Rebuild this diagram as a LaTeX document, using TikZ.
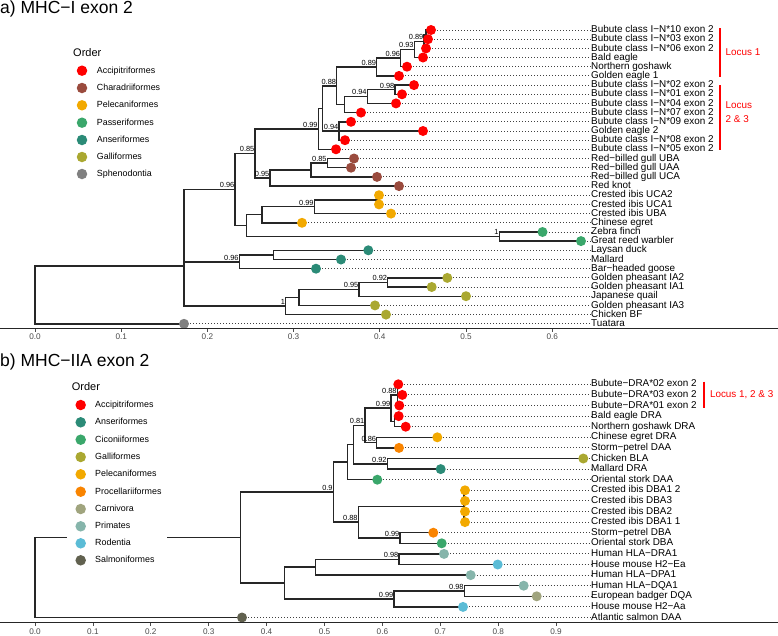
\documentclass[tikz,border=0pt]{standalone}
\usepackage{fontspec}
\setmainfont{Liberation Sans}
\usetikzlibrary{backgrounds}

\definecolor{accip}{HTML}{FF0000}
\definecolor{chara}{HTML}{9A4B3E}
\definecolor{pelec}{HTML}{F2A900}
\definecolor{passe}{HTML}{3AA76B}
\definecolor{anser}{HTML}{2B8B77}
\definecolor{galli}{HTML}{AAA831}
\definecolor{sphen}{HTML}{808080}
\definecolor{cicon}{HTML}{3AA76B}
\definecolor{proce}{HTML}{F98400}
\definecolor{carni}{HTML}{A0A47E}
\definecolor{prima}{HTML}{86B5AB}
\definecolor{roden}{HTML}{5BBCD6}
\definecolor{salmo}{HTML}{61614F}

\tikzset{
  edge/.style={line width=1.4pt, black!85},
  dotline/.style={line width=0.9pt, black!75, dash pattern=on 0.9pt off 2.1pt},
  tip/.style={circle, inner sep=0pt, minimum size=10pt},
  key/.style={circle, inner sep=0pt, minimum size=10.5pt},
  tiplab/.style={anchor=mid west, inner sep=0pt, font=\fontsize{9.9}{10}\selectfont},
  support/.style={anchor=base east, inner sep=0pt, xshift=-0.5pt, yshift=1.6pt, font=\fontsize{7.4}{8}\selectfont},
  keylab/.style={anchor=mid west, inner sep=0pt, font=\fontsize{8.9}{9}\selectfont},
  keytitle/.style={anchor=base west, inner sep=0pt, font=\fontsize{11}{12}\selectfont},
  paneltitle/.style={anchor=base west, inner sep=0pt, font=\fontsize{17.5}{18}\selectfont},
  ticklab/.style={inner sep=0pt, text=black!70, font=\fontsize{8.2}{9}\selectfont},
  axisline/.style={line width=1.3pt, black!85},
  tickmark/.style={line width=0.8pt, black!70},
  locus/.style={anchor=mid west, inner sep=0pt, text=accip, font=\fontsize{9.9}{10}\selectfont},
  bracket/.style={line width=2pt, accip},
}

\begin{document}
\begin{tikzpicture}[x=1pt, y=-1pt]
  \useasboundingbox (0,0) rectangle (778,635);

  % ---------------- panel a ----------------
  \node[paneltitle] (titlea) at (0,13.5) {a) MHC−I exon 2};

  % tips
  \node[tip,fill=accip] (a0) at (431,30.0) {};
  \node[tip,fill=accip] (a1) at (428,39.2) {};
  \node[tip,fill=accip] (a2) at (426,48.4) {};
  \node[tip,fill=accip] (a3) at (423,57.5) {};
  \node[tip,fill=accip] (a4) at (407,66.7) {};
  \node[tip,fill=accip] (a5) at (399,75.9) {};
  \node[tip,fill=accip] (a6) at (414,85.1) {};
  \node[tip,fill=accip] (a7) at (402,94.3) {};
  \node[tip,fill=accip] (a8) at (396,103.4) {};
  \node[tip,fill=accip] (a9) at (361,112.6) {};
  \node[tip,fill=accip] (a10) at (351,121.8) {};
  \node[tip,fill=accip] (a11) at (423,131.0) {};
  \node[tip,fill=accip] (a12) at (345,140.2) {};
  \node[tip,fill=accip] (a13) at (336,149.3) {};
  \node[tip,fill=chara] (a14) at (354,158.5) {};
  \node[tip,fill=chara] (a15) at (351,167.7) {};
  \node[tip,fill=chara] (a16) at (377,176.9) {};
  \node[tip,fill=chara] (a17) at (399,186.1) {};
  \node[tip,fill=pelec] (a18) at (379,195.2) {};
  \node[tip,fill=pelec] (a19) at (379,204.4) {};
  \node[tip,fill=pelec] (a20) at (391,213.6) {};
  \node[tip,fill=pelec] (a21) at (302,222.8) {};
  \node[tip,fill=passe] (a22) at (542.5,232.0) {};
  \node[tip,fill=passe] (a23) at (581,241.1) {};
  \node[tip,fill=anser] (a24) at (368.3,250.3) {};
  \node[tip,fill=anser] (a25) at (341,259.5) {};
  \node[tip,fill=anser] (a26) at (316,268.7) {};
  \node[tip,fill=galli] (a27) at (447.3,277.9) {};
  \node[tip,fill=galli] (a28) at (431.7,287.0) {};
  \node[tip,fill=galli] (a29) at (466,296.2) {};
  \node[tip,fill=galli] (a30) at (375,305.4) {};
  \node[tip,fill=galli] (a31) at (386,314.6) {};
  \node[tip,fill=sphen] (a32) at (184,323.8) {};

  % tip labels
  \node[tiplab] (la0) at (591,30.0) {Bubute class I−N*10 exon 2};
  \node[tiplab] (la1) at (591,39.2) {Bubute class I−N*03 exon 2};
  \node[tiplab] (la2) at (591,48.4) {Bubute class I−N*06 exon 2};
  \node[tiplab] (la3) at (591,57.5) {Bald eagle};
  \node[tiplab] (la4) at (591,66.7) {Northern goshawk};
  \node[tiplab] (la5) at (591,75.9) {Golden eagle 1};
  \node[tiplab] (la6) at (591,85.1) {Bubute class I−N*02 exon 2};
  \node[tiplab] (la7) at (591,94.3) {Bubute class I−N*01 exon 2};
  \node[tiplab] (la8) at (591,103.4) {Bubute class I−N*04 exon 2};
  \node[tiplab] (la9) at (591,112.6) {Bubute class I−N*07 exon 2};
  \node[tiplab] (la10) at (591,121.8) {Bubute class I−N*09 exon 2};
  \node[tiplab] (la11) at (591,131.0) {Golden eagle 2};
  \node[tiplab] (la12) at (591,140.2) {Bubute class I−N*08 exon 2};
  \node[tiplab] (la13) at (591,149.3) {Bubute class I−N*05 exon 2};
  \node[tiplab] (la14) at (591,158.5) {Red−billed gull UBA};
  \node[tiplab] (la15) at (591,167.7) {Red−billed gull UAA};
  \node[tiplab] (la16) at (591,176.9) {Red−billed gull UCA};
  \node[tiplab] (la17) at (591,186.1) {Red knot};
  \node[tiplab] (la18) at (591,195.2) {Crested ibis UCA2};
  \node[tiplab] (la19) at (591,204.4) {Crested ibis UCA1};
  \node[tiplab] (la20) at (591,213.6) {Crested ibis UBA};
  \node[tiplab] (la21) at (591,222.8) {Chinese egret};
  \node[tiplab] (la22) at (591,232.0) {Zebra finch};
  \node[tiplab] (la23) at (591,241.1) {Great reed warbler};
  \node[tiplab] (la24) at (591,250.3) {Laysan duck};
  \node[tiplab] (la25) at (591,259.5) {Mallard};
  \node[tiplab] (la26) at (591,268.7) {Bar−headed goose};
  \node[tiplab] (la27) at (591,277.9) {Golden pheasant IA2};
  \node[tiplab] (la28) at (591,287.0) {Golden pheasant IA1};
  \node[tiplab] (la29) at (591,296.2) {Japanese quail};
  \node[tiplab] (la30) at (591,305.4) {Golden pheasant IA3};
  \node[tiplab] (la31) at (591,314.6) {Chicken BF};
  \node[tiplab] (la32) at (591,323.8) {Tuatara};

  % internal nodes
  \coordinate (nA) at (426,34.6);
  \coordinate (nB) at (424,41.5);
  \coordinate (nC) at (414.3,49.5);
  \coordinate (nD) at (400.7,58.1);
  \coordinate (nE) at (376.7,67.0);
  \coordinate (nH) at (395,89.7);
  \coordinate (nI) at (367.3,96.55);
  \coordinate (nJ) at (344.3,104.6);
  \coordinate (nF) at (336.7,85.8);
  \coordinate (nK) at (339,131.0);
  \coordinate (nN) at (322.7,108.4);
  \coordinate (nM) at (318.3,128.85);
  \coordinate (nO) at (327.3,163.1);
  \coordinate (nP) at (311,170.0);
  \coordinate (nR) at (270,178.05);
  \coordinate (nL) at (255,153.45);
  \coordinate (nQa) at (379,199.8);
  \coordinate (nQ) at (314.3,206.7);
  \coordinate (nT) at (262,214.75);
  \coordinate (nZ) at (499.3,236.55);
  \coordinate (nS) at (246.7,225.65);
  \coordinate (nG) at (235,189.55);
  \coordinate (nV) at (273.3,254.9);
  \coordinate (nU) at (239.3,261.8);
  \coordinate (nX) at (184,225.7);
  \coordinate (nGa) at (387.7,282.45);
  \coordinate (nGb) at (359,289.3);
  \coordinate (nGc) at (299,297.35);
  \coordinate (nW) at (285.7,305.98);
  \coordinate (nY) at (184,265.8);
  \coordinate (nroot) at (35,294.8);

  % support values
  \node[support] (sB) at (nB) {0.89};
  \node[support] (sC) at (nC) {0.93};
  \node[support] (sD) at (nD) {0.96};
  \node[support] (sE) at (nE) {0.89};
  \node[support] (sH) at (nH) {0.98};
  \node[support] (sI) at (nI) {0.94};
  \node[support] (sF) at (nF) {0.88};
  \node[support] (sK) at (nK) {0.94};
  \node[support] (sM) at (nM) {0.99};
  \node[support] (sO) at (nO) {0.85};
  \node[support] (sR) at (nR) {0.95};
  \node[support] (sL) at (nL) {0.85};
  \node[support] (sQ) at (nQ) {0.99};
  \node[support] (sZ) at (nZ) {1};
  \node[support] (sG) at (nG) {0.96};
  \node[support] (sU) at (nU) {0.96};
  \node[support] (sGa) at (nGa) {0.92};
  \node[support] (sGb) at (nGb) {0.95};
  \node[support] (sW) at (nW) {1};

  % legend a
  \node[keytitle] (keya) at (73,56) {Order};
  \node[key,fill=accip] (ka1) at (82,70.7) {};
  \node[key,fill=chara] (ka2) at (82,88) {};
  \node[key,fill=pelec] (ka3) at (82,105.3) {};
  \node[key,fill=passe] (ka4) at (82,122.7) {};
  \node[key,fill=anser] (ka5) at (82,140) {};
  \node[key,fill=galli] (ka6) at (82,157) {};
  \node[key,fill=sphen] (ka7) at (82,174) {};
  \node[keylab] (kla1) at (96.7,70.7) {Accipitriformes};
  \node[keylab] (kla2) at (96.7,88) {Charadriiformes};
  \node[keylab] (kla3) at (96.7,105.3) {Pelecaniformes};
  \node[keylab] (kla4) at (96.7,122.7) {Passeriformes};
  \node[keylab] (kla5) at (96.7,140) {Anseriformes};
  \node[keylab] (kla6) at (96.7,157) {Galliformes};
  \node[keylab] (kla7) at (96.7,174) {Sphenodontia};

  % loci a
  \draw[bracket] (720,28.3) -- (720,77.3);
  \draw[bracket] (720,85.3) -- (720,150);
  \node[locus] (loc1) at (725.5,53) {Locus 1};
  \node[locus] (loc2) at (725.5,105.7) {Locus};
  \node[locus] (loc3) at (725.5,120) {2 \& 3};

  % axis a
  \draw[axisline] (0,328.5) -- (778,328.5);
  \draw[tickmark] (35,328.5) -- (35,331.5);
  \draw[tickmark] (121.2,328.5) -- (121.2,331.5);
  \draw[tickmark] (207.4,328.5) -- (207.4,331.5);
  \draw[tickmark] (293.6,328.5) -- (293.6,331.5);
  \draw[tickmark] (379.8,328.5) -- (379.8,331.5);
  \draw[tickmark] (466,328.5) -- (466,331.5);
  \draw[tickmark] (552.2,328.5) -- (552.2,331.5);
  \node[ticklab] (xa0) at (35,336.7) {0.0};
  \node[ticklab] (xa1) at (121.2,336.7) {0.1};
  \node[ticklab] (xa2) at (207.4,336.7) {0.2};
  \node[ticklab] (xa3) at (293.6,336.7) {0.3};
  \node[ticklab] (xa4) at (379.8,336.7) {0.4};
  \node[ticklab] (xa5) at (466,336.7) {0.5};
  \node[ticklab] (xa6) at (552.2,336.7) {0.6};

  \begin{scope}[on background layer]
    \draw[edge] (nA) |- (a0.center) (nA) |- (a1.center);
    \draw[edge] (nB) |- (nA) (nB) |- (a2.center);
    \draw[edge] (nC) |- (nB) (nC) |- (a3.center);
    \draw[edge] (nD) |- (nC) (nD) |- (a4.center);
    \draw[edge] (nE) |- (nD) (nE) |- (a5.center);
    \draw[edge] (nH) |- (a6.center) (nH) |- (a7.center);
    \draw[edge] (nI) |- (nH) (nI) |- (a8.center);
    \draw[edge] (nJ) |- (nI) (nJ) |- (a9.center);
    \draw[edge] (nF) |- (nE) (nF) |- (nJ);
    \draw[edge] (nK) |- (a10.center) (nK) |- (a11.center) (nK) |- (a12.center);
    \draw[edge] (nN) |- (nF) (nN) |- (nK);
    \draw[edge] (nM) |- (nN) (nM) |- (a13.center);
    \draw[edge] (nO) |- (a14.center) (nO) |- (a15.center);
    \draw[edge] (nP) |- (nO) (nP) |- (a16.center);
    \draw[edge] (nR) |- (nP) (nR) |- (a17.center);
    \draw[edge] (nL) |- (nM) (nL) |- (nR);
    \draw[edge] (nQa) |- (a18.center) (nQa) |- (a19.center);
    \draw[edge] (nQ) |- (nQa) (nQ) |- (a20.center);
    \draw[edge] (nT) |- (nQ) (nT) |- (a21.center);
    \draw[edge] (nZ) |- (a22.center) (nZ) |- (a23.center);
    \draw[edge] (nS) |- (nT) (nS) |- (nZ);
    \draw[edge] (nG) |- (nL) (nG) |- (nS);
    \draw[edge] (nV) |- (a24.center) (nV) |- (a25.center);
    \draw[edge] (nU) |- (nV) (nU) |- (a26.center);
    \draw[edge] (nX) |- (nG) (nX) |- (nU);
    \draw[edge] (nGa) |- (a27.center) (nGa) |- (a28.center);
    \draw[edge] (nGb) |- (nGa) (nGb) |- (a29.center);
    \draw[edge] (nGc) |- (nGb) (nGc) |- (a30.center);
    \draw[edge] (nW) |- (nGc) (nW) |- (a31.center);
    \draw[edge] (nY) |- (nX) (nY) |- (nW);
    \draw[edge] (nroot) |- (nY) (nroot) |- (a32.center);
    % dotted guides
    \draw[dotline] (a0.center) -- (a0.center -| la0.west);
    \draw[dotline] (a1.center) -- (a1.center -| la1.west);
    \draw[dotline] (a2.center) -- (a2.center -| la2.west);
    \draw[dotline] (a3.center) -- (a3.center -| la3.west);
    \draw[dotline] (a4.center) -- (a4.center -| la4.west);
    \draw[dotline] (a5.center) -- (a5.center -| la5.west);
    \draw[dotline] (a6.center) -- (a6.center -| la6.west);
    \draw[dotline] (a7.center) -- (a7.center -| la7.west);
    \draw[dotline] (a8.center) -- (a8.center -| la8.west);
    \draw[dotline] (a9.center) -- (a9.center -| la9.west);
    \draw[dotline] (a10.center) -- (a10.center -| la10.west);
    \draw[dotline] (a11.center) -- (a11.center -| la11.west);
    \draw[dotline] (a12.center) -- (a12.center -| la12.west);
    \draw[dotline] (a13.center) -- (a13.center -| la13.west);
    \draw[dotline] (a14.center) -- (a14.center -| la14.west);
    \draw[dotline] (a15.center) -- (a15.center -| la15.west);
    \draw[dotline] (a16.center) -- (a16.center -| la16.west);
    \draw[dotline] (a17.center) -- (a17.center -| la17.west);
    \draw[dotline] (a18.center) -- (a18.center -| la18.west);
    \draw[dotline] (a19.center) -- (a19.center -| la19.west);
    \draw[dotline] (a20.center) -- (a20.center -| la20.west);
    \draw[dotline] (a21.center) -- (a21.center -| la21.west);
    \draw[dotline] (a22.center) -- (a22.center -| la22.west);
    \draw[dotline] (a23.center) -- (a23.center -| la23.west);
    \draw[dotline] (a24.center) -- (a24.center -| la24.west);
    \draw[dotline] (a25.center) -- (a25.center -| la25.west);
    \draw[dotline] (a26.center) -- (a26.center -| la26.west);
    \draw[dotline] (a27.center) -- (a27.center -| la27.west);
    \draw[dotline] (a28.center) -- (a28.center -| la28.west);
    \draw[dotline] (a29.center) -- (a29.center -| la29.west);
    \draw[dotline] (a30.center) -- (a30.center -| la30.west);
    \draw[dotline] (a31.center) -- (a31.center -| la31.west);
    \draw[dotline] (a32.center) -- (a32.center -| la32.west);
  \end{scope}

  % ---------------- panel b ----------------
  \node[paneltitle] (titleb) at (0,366.7) {b) MHC−IIA exon 2};

  % tips
  \node[tip,fill=accip] (b0) at (398.3,384.3) {};
  \node[tip,fill=accip] (b1) at (402.3,394.9) {};
  \node[tip,fill=accip] (b2) at (399.3,405.5) {};
  \node[tip,fill=accip] (b3) at (398.7,416.1) {};
  \node[tip,fill=accip] (b4) at (405.7,426.7) {};
  \node[tip,fill=pelec] (b5) at (437.3,437.3) {};
  \node[tip,fill=proce] (b6) at (399,447.9) {};
  \node[tip,fill=galli] (b7) at (583.3,458.5) {};
  \node[tip,fill=anser] (b8) at (440.7,469.1) {};
  \node[tip,fill=cicon] (b9) at (377.3,479.7) {};
  \node[tip,fill=pelec] (b10) at (465,490.3) {};
  \node[tip,fill=pelec] (b11) at (465,500.9) {};
  \node[tip,fill=pelec] (b12) at (465,511.5) {};
  \node[tip,fill=pelec] (b13) at (465,522.1) {};
  \node[tip,fill=proce] (b14) at (433.3,532.7) {};
  \node[tip,fill=cicon] (b15) at (441.7,543.3) {};
  \node[tip,fill=prima] (b16) at (444,553.9) {};
  \node[tip,fill=roden] (b17) at (497.7,564.5) {};
  \node[tip,fill=prima] (b18) at (470.7,575.1) {};
  \node[tip,fill=prima] (b19) at (523.7,585.7) {};
  \node[tip,fill=carni] (b20) at (536.7,596.3) {};
  \node[tip,fill=roden] (b21) at (463,606.9) {};
  \node[tip,fill=salmo] (b22) at (242,617.5) {};

  % tip labels
  \node[tiplab] (lb0) at (591,384.3) {Bubute−DRA*02 exon 2};
  \node[tiplab] (lb1) at (591,394.9) {Bubute−DRA*03 exon 2};
  \node[tiplab] (lb2) at (591,405.5) {Bubute−DRA*01 exon 2};
  \node[tiplab] (lb3) at (591,416.1) {Bald eagle DRA};
  \node[tiplab] (lb4) at (591,426.7) {Northern goshawk DRA};
  \node[tiplab] (lb5) at (591,437.3) {Chinese egret DRA};
  \node[tiplab] (lb6) at (591,447.9) {Storm−petrel DAA};
  \node[tiplab] (lb7) at (591,458.5) {Chicken BLA};
  \node[tiplab] (lb8) at (591,469.1) {Mallard DRA};
  \node[tiplab] (lb9) at (591,479.7) {Oriental stork DAA};
  \node[tiplab] (lb10) at (591,490.3) {Crested ibis DBA1 2};
  \node[tiplab] (lb11) at (591,500.9) {Crested ibis DBA3};
  \node[tiplab] (lb12) at (591,511.5) {Crested ibis DBA2};
  \node[tiplab] (lb13) at (591,522.1) {Crested ibis DBA1 1};
  \node[tiplab] (lb14) at (591,532.7) {Storm−petrel DBA};
  \node[tiplab] (lb15) at (591,543.3) {Oriental stork DBA};
  \node[tiplab] (lb16) at (591,553.9) {Human HLA−DRA1};
  \node[tiplab] (lb17) at (591,564.5) {House mouse H2−Ea};
  \node[tiplab] (lb18) at (591,575.1) {Human HLA−DPA1};
  \node[tiplab] (lb19) at (591,585.7) {Human HLA−DQA1};
  \node[tiplab] (lb20) at (591,596.3) {European badger DQA};
  \node[tiplab] (lb21) at (591,606.9) {House mouse H2−Aa};
  \node[tiplab] (lb22) at (591,617.5) {Atlantic salmon DAA};

  % internal nodes
  \coordinate (m0) at (397.3,394.9);
  \coordinate (m1) at (394.3,421.4);
  \coordinate (m2) at (391,408.15);
  \coordinate (m3) at (376.7,442.6);
  \coordinate (m4) at (365,425.4);
  \coordinate (m5) at (387.3,463.8);
  \coordinate (m6) at (353.3,444.6);
  \coordinate (m7) at (347.7,462.15);
  \coordinate (m8) at (464,506.2);
  \coordinate (m9) at (400,538.0);
  \coordinate (m10) at (358.3,522.1);
  \coordinate (m11) at (333.3,492.1);
  \coordinate (m12) at (399,559.2);
  \coordinate (m13) at (315.7,567.15);
  \coordinate (m14) at (464.3,591.0);
  \coordinate (m15) at (394,598.95);
  \coordinate (m16) at (284.7,583.05);
  \coordinate (m17) at (240.7,537.6);
  \coordinate (mroot) at (35,577.55);

  % support values
  \node[support] (t0) at (m0) {0.88};
  \node[support] (t2) at (m2) {0.99};
  \node[support] (t3) at (m3) {0.86};
  \node[support] (t4) at (m4) {0.81};
  \node[support] (t5) at (m5) {0.92};
  \node[support] (t9) at (m9) {0.99};
  \node[support] (t10) at (m10) {0.88};
  \node[support] (t11) at (m11) {0.9};
  \node[support] (t12) at (m12) {0.98};
  \node[support] (t14) at (m14) {0.98};
  \node[support] (t15) at (m15) {0.99};

  % loci b
  \draw[bracket] (704.3,381.7) -- (704.3,408.3);
  \node[locus] (loc4) at (709.8,395) {Locus 1, 2 \& 3};

  % axis b
  \draw[axisline] (0,622.7) -- (778,622.7);
  \draw[tickmark] (35,622.7) -- (35,625.7);
  \draw[tickmark] (92.9,622.7) -- (92.9,625.7);
  \draw[tickmark] (150.8,622.7) -- (150.8,625.7);
  \draw[tickmark] (208.7,622.7) -- (208.7,625.7);
  \draw[tickmark] (266.6,622.7) -- (266.6,625.7);
  \draw[tickmark] (324.5,622.7) -- (324.5,625.7);
  \draw[tickmark] (382.4,622.7) -- (382.4,625.7);
  \draw[tickmark] (440.3,622.7) -- (440.3,625.7);
  \draw[tickmark] (498.2,622.7) -- (498.2,625.7);
  \draw[tickmark] (556.1,622.7) -- (556.1,625.7);
  \node[ticklab] (xb0) at (35,631.3) {0.0};
  \node[ticklab] (xb1) at (92.9,631.3) {0.1};
  \node[ticklab] (xb2) at (150.8,631.3) {0.2};
  \node[ticklab] (xb3) at (208.7,631.3) {0.3};
  \node[ticklab] (xb4) at (266.6,631.3) {0.4};
  \node[ticklab] (xb5) at (324.5,631.3) {0.5};
  \node[ticklab] (xb6) at (382.4,631.3) {0.6};
  \node[ticklab] (xb7) at (440.3,631.3) {0.7};
  \node[ticklab] (xb8) at (498.2,631.3) {0.8};
  \node[ticklab] (xb9) at (556.1,631.3) {0.9};

  % legend b
  \node[keytitle] (keyb) at (71.7,390.3) {Order};
  \node[key,fill=accip] (kb1) at (80.7,405) {};
  \node[key,fill=anser] (kb2) at (80.7,422.3) {};
  \node[key,fill=cicon] (kb3) at (80.7,439.7) {};
  \node[key,fill=galli] (kb4) at (80.7,457) {};
  \node[key,fill=pelec] (kb5) at (80.7,474.3) {};
  \node[key,fill=proce] (kb6) at (80.7,491.7) {};
  \node[key,fill=carni] (kb7) at (80.7,509) {};
  \node[key,fill=prima] (kb8) at (80.7,526.3) {};
  \node[key,fill=roden] (kb9) at (80.7,543.3) {};
  \node[key,fill=salmo] (kb10) at (80.7,560.3) {};
  \node[keylab] (klb1) at (95,405) {Accipitriformes};
  \node[keylab] (klb2) at (95,422.3) {Anseriformes};
  \node[keylab] (klb3) at (95,439.7) {Ciconiiformes};
  \node[keylab] (klb4) at (95,457) {Galliformes};
  \node[keylab] (klb5) at (95,474.3) {Pelecaniformes};
  \node[keylab] (klb6) at (95,491.7) {Procellariiformes};
  \node[keylab] (klb7) at (95,509) {Carnivora};
  \node[keylab] (klb8) at (95,526.3) {Primates};
  \node[keylab] (klb9) at (95,543.3) {Rodentia};
  \node[keylab] (klb10) at (95,560.3) {Salmoniformes};

  \begin{scope}[on background layer]
    \draw[edge] (m0) |- (b0.center) (m0) |- (b1.center) (m0) |- (b2.center);
    \draw[edge] (m1) |- (b3.center) (m1) |- (b4.center);
    \draw[edge] (m2) |- (m0) (m2) |- (m1);
    \draw[edge] (m3) |- (b5.center) (m3) |- (b6.center);
    \draw[edge] (m4) |- (m2) (m4) |- (m3);
    \draw[edge] (m5) |- (b7.center) (m5) |- (b8.center);
    \draw[edge] (m6) |- (m4) (m6) |- (m5);
    \draw[edge] (m7) |- (m6) (m7) |- (b9.center);
    \draw[edge] (m8) |- (b10.center) (m8) |- (b11.center) (m8) |- (b12.center) (m8) |- (b13.center);
    \draw[edge] (m9) |- (b14.center) (m9) |- (b15.center);
    \draw[edge] (m10) |- (m8) (m10) |- (m9);
    \draw[edge] (m11) |- (m7) (m11) |- (m10);
    \draw[edge] (m12) |- (b16.center) (m12) |- (b17.center);
    \draw[edge] (m13) |- (m12) (m13) |- (b18.center);
    \draw[edge] (m14) |- (b19.center) (m14) |- (b20.center);
    \draw[edge] (m15) |- (m14) (m15) |- (b21.center);
    \draw[edge] (m16) |- (m13) (m16) |- (m15);
    \draw[edge] (m17) |- (m11) (m17) |- (m16);
    \draw[edge] (mroot) |- (m17) (mroot) |- (b22.center);
    % dotted guides
    \draw[dotline] (b0.center) -- (b0.center -| lb0.west);
    \draw[dotline] (b1.center) -- (b1.center -| lb1.west);
    \draw[dotline] (b2.center) -- (b2.center -| lb2.west);
    \draw[dotline] (b3.center) -- (b3.center -| lb3.west);
    \draw[dotline] (b4.center) -- (b4.center -| lb4.west);
    \draw[dotline] (b5.center) -- (b5.center -| lb5.west);
    \draw[dotline] (b6.center) -- (b6.center -| lb6.west);
    \draw[dotline] (b7.center) -- (b7.center -| lb7.west);
    \draw[dotline] (b8.center) -- (b8.center -| lb8.west);
    \draw[dotline] (b9.center) -- (b9.center -| lb9.west);
    \draw[dotline] (b10.center) -- (b10.center -| lb10.west);
    \draw[dotline] (b11.center) -- (b11.center -| lb11.west);
    \draw[dotline] (b12.center) -- (b12.center -| lb12.west);
    \draw[dotline] (b13.center) -- (b13.center -| lb13.west);
    \draw[dotline] (b14.center) -- (b14.center -| lb14.west);
    \draw[dotline] (b15.center) -- (b15.center -| lb15.west);
    \draw[dotline] (b16.center) -- (b16.center -| lb16.west);
    \draw[dotline] (b17.center) -- (b17.center -| lb17.west);
    \draw[dotline] (b18.center) -- (b18.center -| lb18.west);
    \draw[dotline] (b19.center) -- (b19.center -| lb19.west);
    \draw[dotline] (b20.center) -- (b20.center -| lb20.west);
    \draw[dotline] (b21.center) -- (b21.center -| lb21.west);
    \draw[dotline] (b22.center) -- (b22.center -| lb22.west);
    % legend background covers the root branch
    \fill[white] (66.5,374) rectangle (166.7,570);
  \end{scope}
\end{tikzpicture}
\end{document}
